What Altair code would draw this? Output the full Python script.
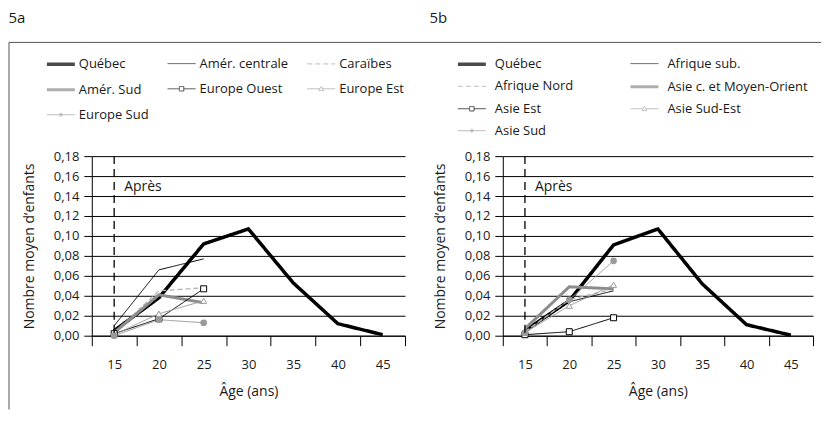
import altair as alt
import pandas as pd

FONT = "Open Sans"
TXT = "#1a1a1a"

ages = ["15", "20", "25", "30", "35", "40", "45"]
y_ticks = [0.0, 0.02, 0.04, 0.06, 0.08, 0.10, 0.12, 0.14, 0.16, 0.18]

# ---- Panel 5a ----
series_a = ["Québec", "Amér. centrale", "Caraïbes", "Amér. Sud",
            "Europe Ouest", "Europe Est", "Europe Sud"]
qc_a = [0.005, 0.038, 0.092, 0.107, 0.053, 0.012, 0.001]
amc_a = [0.010, 0.066, 0.077]
car_a = [0.003, 0.045, 0.048]
ams_a = [0.003, 0.041, 0.033]
euo_a = [0.002, 0.017, 0.047]
eue_a = [0.001, 0.022, 0.035]
eus_a = [0.000, 0.016, 0.013]
values_a = [qc_a, amc_a, car_a, ams_a, euo_a, eue_a, eus_a]

# ---- Panel 5b ----
series_b = ["Québec", "Afrique sub.", "Afrique Nord", "Asie c. et Moyen-Orient",
            "Asie Est", "Asie Sud-Est", "Asie Sud"]
qc_b = [0.005, 0.035, 0.091, 0.107, 0.052, 0.011, 0.0005]
afs_b = [0.004, 0.034, 0.045]
afn_b = [0.004, 0.036, 0.047]
asc_b = [0.007, 0.049, 0.047]
ase_b = [0.001, 0.004, 0.018]
asse_b = [0.003, 0.030, 0.051]
ass_b = [0.003, 0.036, 0.075]
values_b = [qc_b, afs_b, afn_b, asc_b, ase_b, asse_b, ass_b]

# ---- styles (same structure in both panels) ----
colors = ["#000000", "#000000", "#b5b5b5", "#8c8c8c", "#000000", "#9a9a9a", "#9a9a9a"]
dashes = [[1, 0], [1, 0], [5, 3], [1, 0], [1, 0], [1, 0], [1, 0]]
widths = [3.5, 1, 1.3, 3, 1, 1, 1]
LINE = "M-1,0H1"
SQ = "M-1,0H-0.16M0.16,0H1M-0.16,-0.16H0.16V0.16H-0.16Z"
TRI = "M-1,0H-0.1M0.1,0H1M0,-0.17L0.17,0.13H-0.17Z"
DOT = ("M-1,0H1M-0.1,0A0.1,0.1 0 1,0 0.1,0A0.1,0.1 0 1,0 -0.1,0"
       "M-0.05,0A0.05,0.05 0 1,0 0.05,0A0.05,0.05 0 1,0 -0.05,0")
legend_shapes = [LINE, LINE, LINE, LINE, SQ, TRI, DOT]

H = 180


def panel(series, values, title, width, cols, col_pad, row_pad, leg_x, lab_off,
          rule_left, rule_right, title_dx):
    rows = []
    for s, vals in zip(series, values):
        for a, v in zip(ages, vals):
            rows.append({"series": s, "age": a, "value": v})
    df = pd.DataFrame(rows)

    xscale = alt.Scale(type="band", domain=ages, paddingInner=0, paddingOuter=0)
    yscale = alt.Scale(domain=[0, 0.18], nice=False, zero=True)
    cscale = alt.Scale(domain=series, range=colors)
    dscale = alt.Scale(domain=series, range=dashes)
    wscale = alt.Scale(type="ordinal", domain=series, range=widths)
    sscale = alt.Scale(domain=series, range=legend_shapes)

    xaxis = alt.Axis(title="Âge (ans)", labelAngle=0, tickBand="extent",
                     tickSize=10, labelPadding=13, titlePadding=13, grid=False)
    yaxis = alt.Axis(title="Nombre moyen d’enfants", values=y_ticks, grid=True,
                     labelExpr="replace(format(datum.value, '.2f'), '.', ',')",
                     tickSize=8, labelPadding=5, titlePadding=17, labelOverlap=False)
    X = alt.X("age:O", scale=xscale, bandPosition=0.5, axis=xaxis)
    Y = alt.Y("value:Q", scale=yscale, axis=yaxis)

    lines = alt.Chart(df).mark_line().encode(
        x=X, y=Y,
        color=alt.Color("series:N", scale=cscale, legend=None),
        strokeDash=alt.StrokeDash("series:N", scale=dscale, legend=None),
        strokeWidth=alt.StrokeWidth("series:N", scale=wscale, legend=None),
    )

    sq = alt.Chart(df).transform_filter(alt.datum.series == series[4]).mark_point(
        shape="square", size=36, filled=True, fill="white", stroke="#000000", strokeWidth=1, opacity=1
    ).encode(x=X, y=Y)
    tri = alt.Chart(df).transform_filter(alt.datum.series == series[5]).mark_point(
        shape="triangle-up", size=36, filled=True, fill="white", stroke="#9a9a9a", strokeWidth=1, opacity=1
    ).encode(x=X, y=Y)
    dot = alt.Chart(df).transform_filter(alt.datum.series == series[6]).mark_point(
        shape="circle", size=22, filled=True, fill="#9a9a9a", stroke="#9a9a9a", opacity=1
    ).encode(x=X, y=Y)

    leg = alt.Legend(title=None, orient="none", direction="horizontal",
                     legendX=leg_x, legendY=-108, columns=cols,
                     columnPadding=col_pad, rowPadding=row_pad, symbolSize=784,
                     labelFontSize=13, labelFont=FONT, labelColor=TXT, labelOffset=lab_off)
    leg_df = pd.DataFrame({"series": series})
    legend_layer = alt.Chart(leg_df).mark_point(filled=False, clip=True).encode(
        x=alt.value(0), y=alt.value(-1000),
        color=alt.Color("series:N", scale=cscale, legend=leg),
        shape=alt.Shape("series:N", scale=sscale, legend=leg),
        strokeDash=alt.StrokeDash("series:N", scale=dscale, legend=leg),
        strokeWidth=alt.StrokeWidth("series:N", scale=wscale, legend=leg),
    )

    vline_df = pd.DataFrame({"age": ["15"], "value": [0.18], "value2": [0.0]})
    vline = alt.Chart(vline_df).mark_rule(color="#000000", strokeDash=[8, 5], strokeWidth=1.3).encode(
        x=X, y=Y, y2="value2:Q",
    )
    note_df = pd.DataFrame({"age": ["15"], "value": [0.149], "label": ["Après"]})
    note = alt.Chart(note_df).mark_text(align="left", dx=10, fontSize=14, font=FONT, color=TXT).encode(
        x=X, y=Y, text="label:N"
    )

    frame_df = pd.DataFrame({"k": [0]})
    top_rule = alt.Chart(frame_df).mark_rule(color="#555555", strokeWidth=1).encode(
        x=alt.value(rule_left), x2=alt.value(rule_right), y=alt.value(-114)
    )
    layers = [lines, sq, tri, dot, legend_layer, vline, note, top_rule]
    if title == "5a":
        side_rule = alt.Chart(frame_df).mark_rule(color="#555555", strokeWidth=1).encode(
            x=alt.value(rule_left), y=alt.value(-114), y2=alt.value(H + 74)
        )
        layers.append(side_rule)

    return alt.layer(*layers).resolve_scale(
        color="independent", shape="independent", strokeDash="independent", strokeWidth="independent"
    ).resolve_legend(
        color="independent", shape="independent", strokeDash="independent", strokeWidth="independent"
    ).properties(
        width=width, height=H,
        title=alt.TitleParams(title, anchor="start", frame="bounds", fontSize=15, font=FONT,
                              fontWeight="normal", color=TXT, offset=16, dx=title_dx),
    )


left = panel(series_a, values_a, "5a", 314, 3, 16, 3, -47, 2, -83, 314, 0)
right = panel(series_b, values_b, "5b", 311, 2, 51, -3, -47, 7, -98, 319, 25)

chart = alt.hconcat(left, right, spacing=98, bounds="flush").resolve_scale(
    color="independent", shape="independent", strokeDash="independent", strokeWidth="independent"
).resolve_legend(
    color="independent", shape="independent", strokeDash="independent", strokeWidth="independent"
).properties(
    padding={"left": 0, "top": 2, "right": 0, "bottom": 0}
).configure_axis(
    labelFont=FONT, titleFont=FONT, labelFontSize=13, titleFontSize=14,
    labelColor=TXT, titleColor=TXT, titleFontWeight="normal",
    domainColor="#000000", tickColor="#000000", gridColor="#000000", gridOpacity=1,
    domainWidth=1, tickWidth=1, gridWidth=1,
).configure_view(strokeWidth=0)

chart.save("out.html", embed_options={"renderer": "svg", "actions": False})
